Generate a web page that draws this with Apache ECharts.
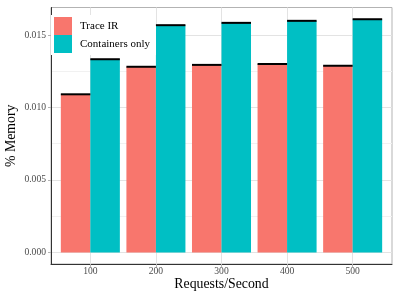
<!DOCTYPE html>
<html>
<head>
<meta charset="utf-8">
<script src="https://cdn.jsdelivr.net/npm/echarts@6/dist/echarts.min.js"></script>
<style>html,body{margin:0;padding:0;background:#fff}#c{width:400px;height:300px}</style>
</head>
<body>
<div id="c"></div>
<script>
const categories = ['100', '200', '300', '400', '500'];
const traceIR = [0.01091, 0.01281, 0.01294, 0.01300, 0.01288];
const containersOnly = [0.01333, 0.01568, 0.01584, 0.01598, 0.01609];
const yMajorTicks = [0, 0.005, 0.010, 0.015];
const yMinorTicks = [0.0025, 0.0075, 0.0125];
const xPositions = categories.map((c, i) => i + 1);

const FONT = 'Liberation Serif';
const yMin = -0.0008, yMax = 0.0169;
const BAR_FRAC = 0.45;

const chart = echarts.init(document.getElementById('c'), null, {renderer: 'canvas'});

function errData(vals, side) {
  return vals.map((v, i) => [xPositions[i], v, side]);
}

chart.setOption({
  animation: false,
  grid: {left: 51, right: 8, top: 7.5, bottom: 36, show: true, borderColor: '#b3b3b3', borderWidth: 1, backgroundColor: '#fff', containLabel: false, outerBoundsMode: 'none'},
  legend: {
    data: ['Trace IR', 'Containers only'],
    orient: 'vertical', left: 51, top: 15, padding: [2, 6, 2, 3],
    itemWidth: 18, itemHeight: 18, itemGap: 0, icon: 'rect',
    backgroundColor: '#fff',
    textStyle: {fontFamily: FONT, fontSize: 11, color: '#000', padding: [0, 0, 0, 3]}
  },
  xAxis: {
    type: 'value', min: 0.4, max: 5.6,
    name: 'Requests/Second', nameLocation: 'middle', nameGap: 13, nameMoveOverlap: false,
    nameTextStyle: {fontFamily: FONT, fontSize: 13.8, color: '#000'},
    axisLine: {show: true, onZero: false, lineStyle: {color: '#333', width: 1}},
    axisTick: {show: true, length: 3, customValues: xPositions, lineStyle: {color: '#b3b3b3'}},
    axisLabel: {customValues: xPositions, formatter: v => categories[Math.round(v) - 1], fontFamily: FONT, fontSize: 9.6, color: '#4d4d4d', margin: 2},
    splitLine: {show: true, lineStyle: {color: '#e3e3e3', width: 1}}
  },
  yAxis: [{
    type: 'value', min: yMin, max: yMax,
    name: '% Memory', nameLocation: 'middle', nameGap: 33, nameMoveOverlap: false,
    nameTextStyle: {fontFamily: FONT, fontSize: 13.8, color: '#000'},
    axisLine: {show: true, onZero: false, lineStyle: {color: '#333', width: 1}},
    axisTick: {show: true, length: 3, customValues: yMajorTicks, lineStyle: {color: '#b3b3b3'}},
    axisLabel: {customValues: yMajorTicks, formatter: v => v.toFixed(3), fontFamily: FONT, fontSize: 9.6, color: '#4d4d4d', margin: 5},
    splitLine: {show: true, lineStyle: {color: '#e3e3e3', width: 1}}
  }, {
    type: 'value', min: yMin, max: yMax, position: 'left',
    axisLine: {show: false}, axisLabel: {show: false},
    axisTick: {show: false, customValues: yMinorTicks},
    splitLine: {show: true, lineStyle: {color: '#f1f1f1', width: 1}}
  }],
  series: [{
    name: 'Trace IR', type: 'bar', barWidth: (BAR_FRAC * 100) + '%', barGap: '0%',
    itemStyle: {color: '#F8766D'},
    data: traceIR.map((v, i) => [xPositions[i], v])
  }, {
    name: 'Containers only', type: 'bar', barWidth: (BAR_FRAC * 100) + '%', barGap: '0%',
    itemStyle: {color: '#00BFC4'},
    data: containersOnly.map((v, i) => [xPositions[i], v])
  }, {
    type: 'custom', z: 5, silent: true,
    data: errData(traceIR, -1).concat(errData(containersOnly, 1)),
    renderItem: function (params, api) {
      const c = api.coord([api.value(0), api.value(1)]);
      const band = api.size([1, 0])[0];
      const w = band * BAR_FRAC;
      const x0 = api.value(2) < 0 ? c[0] - w : c[0];
      return {type: 'line', shape: {x1: x0, y1: c[1], x2: x0 + w, y2: c[1]}, style: {stroke: '#000', lineWidth: 2}};
    }
  }]
});
</script>
</body>
</html>
